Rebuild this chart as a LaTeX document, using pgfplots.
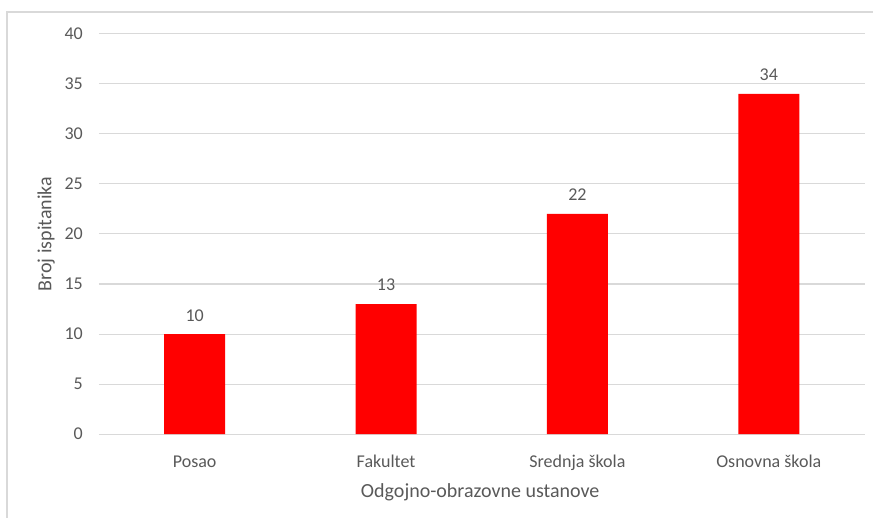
\documentclass[border=0pt]{standalone}
\usepackage{pgfplots}
\pgfplotsset{compat=1.18}
\usepackage{fontspec}
\setmainfont{Carlito}
\definecolor{txtgray}{HTML}{595959}
\definecolor{gridgray}{HTML}{D9D9D9}
\definecolor{barred}{HTML}{FF0000}
\begin{document}
\begin{tikzpicture}[x=1pt,y=1pt]
\useasboundingbox (0,0) rectangle (873,517);
\draw[gridgray, line width=2pt] (7,-2) -- (7,505) -- (875,505);
\begin{axis}[
  at={(99pt,83pt)}, anchor=south west,
  scale only axis, width=765.5pt, height=400pt,
  xmin=-0.5, xmax=3.5, ymin=0, ymax=40,
  enlargelimits=false,
  ytick={0,5,...,40},
  xtick={0,1,2,3},
  xticklabels={Posao,Fakultet,Srednja škola,Osnovna škola},
  ymajorgrids, major grid style={gridgray, line width=1pt},
  axis line style={draw=none},
  major tick length=0pt,
  tick style={draw=none},
  ticklabel style={font=\fontsize{18}{21}\selectfont, text=txtgray, inner sep=0pt},
  /pgf/number format/assume math mode=true,
  xticklabel style={anchor=base, yshift=-33pt},
  yticklabel style={anchor=east, xshift=-16pt},
  xlabel={Odgojno-obrazovne ustanove},
  ylabel={Broj ispitanika},
  label style={font=\fontsize{20}{24}\selectfont, text=txtgray, inner sep=0pt},
  xlabel style={at={(axis description cs:0.498,-0.145)}, anchor=center},
  ylabel style={at={(axis description cs:-0.0692,0.5)}, anchor=center},
  ybar, bar width=61pt, bar shift=0pt,
  nodes near coords,
  nodes near coords style={font=\fontsize{18}{21}\selectfont, text=txtgray, anchor=base, inner sep=0pt, yshift=13pt},
  clip=false,
]
\addplot[fill=barred, draw=none] coordinates {(0,10) (1,13) (2,22) (3,34)};
\end{axis}
\end{tikzpicture}
\end{document}
